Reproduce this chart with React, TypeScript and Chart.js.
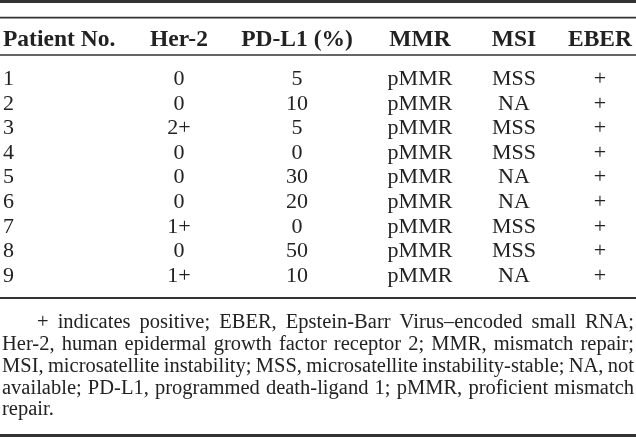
import React, { useEffect, useRef } from "react";
import { Chart, registerables } from "chart.js";

Chart.register(...registerables);

// ---------- data ----------
const HEADERS = ["Patient No.", "Her-2", "PD-L1 (%)", "MMR", "MSI", "EBER"];
const PATIENT_NO = ["1", "2", "3", "4", "5", "6", "7", "8", "9"];
const HER2 = ["0", "0", "2+", "0", "0", "0", "1+", "0", "1+"];
const PDL1 = [5, 10, 5, 0, 30, 20, 0, 50, 10];
const MMR = ["pMMR", "pMMR", "pMMR", "pMMR", "pMMR", "pMMR", "pMMR", "pMMR", "pMMR"];
const MSI = ["MSS", "NA", "MSS", "MSS", "NA", "NA", "MSS", "MSS", "NA"];
const EBER = ["+", "+", "+", "+", "+", "+", "+", "+", "+"];
const FOOTNOTE = [
  "+ indicates positive; EBER, Epstein-Barr Virus\u2013encoded small RNA;",
  "Her-2, human epidermal growth factor receptor 2; MMR, mismatch repair;",
  "MSI, microsatellite instability; MSS, microsatellite instability-stable; NA, not",
  "available; PD-L1, programmed death-ligand 1; pMMR, proficient mismatch",
  "repair.",
];

// ---------- layout ----------
const W = 636;
const H = 439;
const COL_X = [3, 179, 297, 420, 514, 600];
const COL_ALIGN = ["left", "center", "center", "center", "center", "center"];
const HEADER_BASE = 46;
const ROW_BASE0 = 85;
const ROW_STEP = 24.6;
const RULES = [
  { y: 1.5, w: 3 },
  { y: 17.7, w: 1.8 },
  { y: 55, w: 1.6 },
  { y: 298, w: 1.8 },
  { y: 435.5, w: 3 },
];
const FOOT_BASE = [328, 350, 372, 394, 415];
const FOOT_INDENT = 37;
const FOOT_LEFT = 2;
const FOOT_RIGHT = 634;

const SERIF = '"Liberation Serif", "Times New Roman", "DejaVu Serif", serif';
const HEADER_FONT = `bold 23.5px ${SERIF}`;
const BODY_FONT = `22px ${SERIF}`;
const FOOT_FONT = `20.5px ${SERIF}`;
const TEXT_COLOR = "#222222";
const RULE_COLOR = "#333333";

type Cell = { x: number; y: number; text: string; font: string; align: string; justify?: boolean };

function buildCells(): Cell[] {
  const cells: Cell[] = [];
  HEADERS.forEach((h, c) =>
    cells.push({ x: COL_X[c], y: HEADER_BASE, text: h, font: HEADER_FONT, align: COL_ALIGN[c] })
  );
  const cols: string[][] = [
    PATIENT_NO,
    HER2,
    PDL1.map((v) => String(v)),
    MMR,
    MSI,
    EBER,
  ];
  cols.forEach((col, c) =>
    col.forEach((v, r) =>
      cells.push({
        x: COL_X[c],
        y: ROW_BASE0 + ROW_STEP * r,
        text: v,
        font: BODY_FONT,
        align: COL_ALIGN[c],
      })
    )
  );
  return cells;
}

function buildFootnote(): Cell[] {
  return FOOTNOTE.map((t, i) => ({
    x: i === 0 ? FOOT_INDENT : FOOT_LEFT,
    y: FOOT_BASE[i],
    text: t,
    font: FOOT_FONT,
    align: "left",
    justify: i < FOOTNOTE.length - 1,
  }));
}

const textPlugin = {
  id: "tableText",
  afterDatasetsDraw(chart: any) {
    const ctx: CanvasRenderingContext2D = chart.ctx;
    const xScale = chart.scales.x;
    chart.data.datasets.forEach((ds: any, di: number) => {
      if (!ds.textLayer) return;
      const meta = chart.getDatasetMeta(di);
      meta.data.forEach((el: any, i: number) => {
        const cell: Cell = ds.data[i];
        ctx.save();
        ctx.font = cell.font;
        ctx.fillStyle = TEXT_COLOR;
        ctx.textBaseline = "alphabetic";
        if (cell.justify) {
          const right = xScale.getPixelForValue(FOOT_RIGHT);
          const words = cell.text.split(" ");
          const widths = words.map((w) => ctx.measureText(w).width);
          const total = widths.reduce((a, b) => a + b, 0);
          const gaps = words.length - 1;
          const spaceW = ctx.measureText(" ").width;
          const avail = right - el.x;
          let gap = (avail - total) / gaps;
          let sx = 1;
          const minGap = spaceW * 0.75;
          if (gap < minGap) {
            gap = minGap;
            sx = avail / (total + gaps * gap);
          }
          ctx.translate(el.x, el.y);
          ctx.scale(sx, 1);
          ctx.textAlign = "left";
          let cx = 0;
          words.forEach((w, k) => {
            ctx.fillText(w, cx, 0);
            cx += widths[k] + gap;
          });
        } else {
          ctx.textAlign = cell.align as CanvasTextAlign;
          ctx.fillText(cell.text, el.x, el.y);
        }
        ctx.restore();
      });
    });
  },
};

export default function App() {
  const ref = useRef<HTMLCanvasElement>(null);
  useEffect(() => {
    document.body.style.margin = "0";
    document.body.style.background = "#ffffff";
    const ruleSets = RULES.map((r) => ({
      type: "line" as const,
      data: [
        { x: 0, y: r.y },
        { x: W, y: r.y },
      ],
      borderColor: RULE_COLOR,
      borderWidth: r.w,
      pointRadius: 0,
      fill: false,
      clip: false as any,
    }));
    const chart = new Chart(ref.current!, {
      type: "scatter",
      data: {
        datasets: [
          ...ruleSets,
          {
            type: "scatter",
            data: buildCells() as any,
            pointRadius: 0,
            textLayer: true,
            clip: false,
          } as any,
          {
            type: "scatter",
            data: buildFootnote() as any,
            pointRadius: 0,
            textLayer: true,
            clip: false,
          } as any,
        ],
      },
      options: {
        animation: false,
        responsive: true,
        maintainAspectRatio: false,
        events: [],
        layout: { padding: 0 },
        plugins: { legend: { display: false }, tooltip: { enabled: false } },
        scales: {
          x: { type: "linear", min: 0, max: W, display: false },
          y: { type: "linear", min: 0, max: H, reverse: true, display: false },
        },
      },
      plugins: [textPlugin],
    });
    return () => chart.destroy();
  }, []);
  return (
    <div style={{ width: W, height: H, position: "relative", background: "#fff" }}>
      <canvas ref={ref} />
    </div>
  );
}
